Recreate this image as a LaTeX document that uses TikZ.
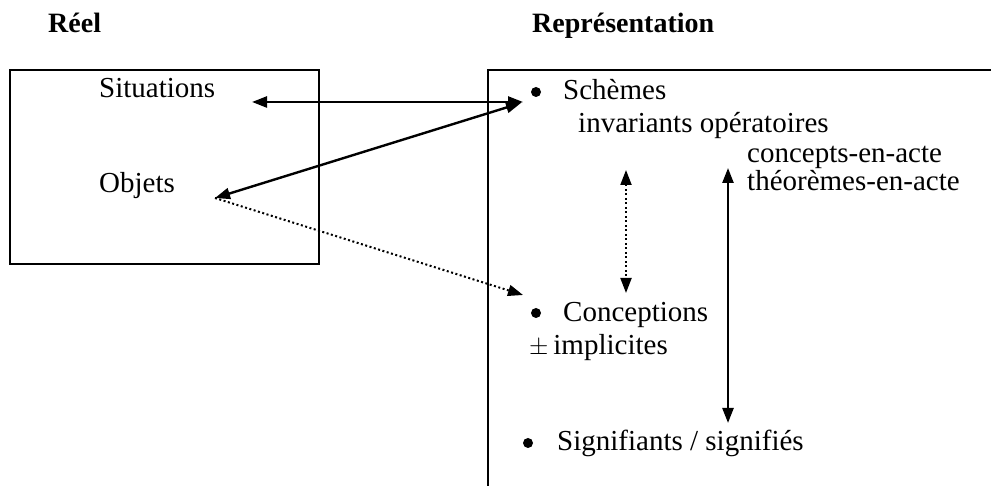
\documentclass[tikz,border=0pt]{standalone}
\usepackage{fontspec}
\setmainfont{Liberation Serif}
\usetikzlibrary{arrows.meta}
\tikzset{
  txt/.style={inner sep=0pt, anchor=base west, font=\fontsize{29}{34}\selectfont},
  ttl/.style={inner sep=0pt, anchor=base west, font=\fontsize{28}{34}\selectfont\bfseries},
  dot/.style={circle, fill=black, inner sep=0pt, minimum size=10pt},
  frame/.style={line width=1.6pt},
  link/.style={line width=2.4pt, {Triangle[length=15pt,width=11pt]}-{Triangle[length=15pt,width=11pt]}},
  dotlink/.style={line width=2pt, dash pattern=on 2pt off 2.5pt, -{Triangle[length=15pt,width=11pt]}},
  dotboth/.style={line width=2pt, dash pattern=on 2pt off 2.5pt, {Triangle[length=15pt,width=11pt]}-{Triangle[length=15pt,width=11pt]}}
}
\begin{document}
\begin{tikzpicture}[x=1pt,y=1pt]
\useasboundingbox (0,0) rectangle (991,486);
% titles
\node[ttl] (reel) at (48,453) {Réel};
\node[ttl] (repr) at (532,453) {Représentation};
% left box
\draw[frame] (10,222) rectangle (319,416);
% right box (clipped by picture edges)
\draw[frame] (991,416) -- (488,416) -- (488,0);
% texts left
\node[txt] (sit) at (99,388) {Situations};
\node[txt] (obj) at (99,293) {Objets};
% bullets
\node[dot] (b1) at (536,394) {};
\node[dot] (b2) at (536,173) {};
\node[dot] (b3) at (528,43) {};
% texts right
\node[txt] (sch) at (563,386) {Schèmes};
\node[txt] (inv) at (578,353) {invariants opératoires};
\node[txt] (con) at (747,323) {concepts-en-acte};
\node[txt] (the) at (747,295) {théorèmes-en-acte};
\node[txt] (cpt) at (563,164) {Conceptions};
\node[txt] (imp) at (529,131) {$\pm$\,implicites};
\node[txt] (sig) at (557,35) {Signifiants / signifiés};
% arrow end points
\coordinate (sitR) at (252,384);
\coordinate (schL) at (523,384);
\coordinate (objR) at (215,288);
\coordinate (schD) at (521,383);
\coordinate (cptL) at (523,191);
\coordinate (dvT) at (626,316);
\coordinate (dvB) at (626,193);
\coordinate (svT) at (728,318);
\coordinate (svB) at (728,63);
% connectors
\draw[link] (sitR) -- (schL);
\draw[link] (objR) -- (schD);
\draw[dotlink] (objR) -- (cptL);
\draw[dotboth] (dvT) -- (dvB);
\draw[link] (svT) -- (svB);
\end{tikzpicture}
\end{document}
